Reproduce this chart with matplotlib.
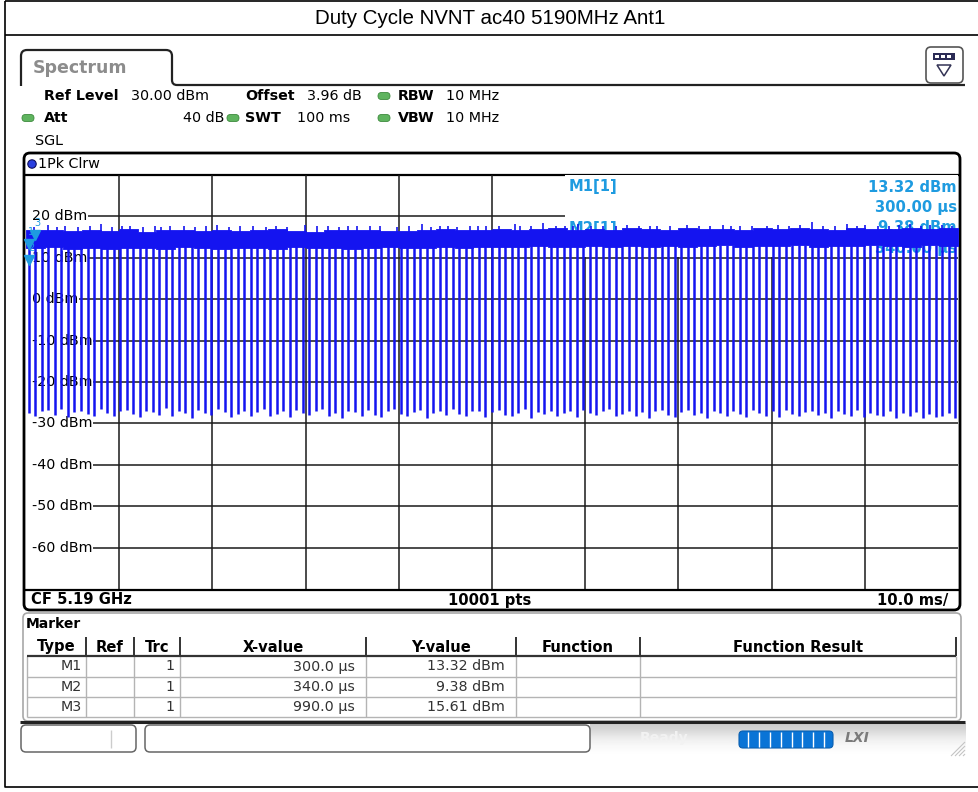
import matplotlib
matplotlib.use("Agg")
import matplotlib.pyplot as plt
from matplotlib.patches import Rectangle, FancyBboxPatch, Circle, Polygon, PathPatch
from matplotlib.path import Path

W, H = 979, 792

# ---- trace data: time in ms, level in dBm ----
dip_ms = [
    0.3, 1.0, 1.7, 2.4, 3.1, 3.8, 4.5, 5.2, 5.9, 6.6,
    7.3, 8.0, 8.7, 9.4, 10.1, 10.8, 11.5, 12.2, 12.9, 13.6,
    14.3, 15.0, 15.7, 16.4, 17.1, 17.8, 18.5, 19.2, 19.9, 20.6,
    21.3, 22.0, 22.7, 23.4, 24.1, 24.8, 25.5, 26.2, 26.9, 27.6,
    28.3, 29.0, 29.7, 30.4, 31.1, 31.8, 32.5, 33.2, 33.9, 34.6,
    35.3, 36.0, 36.7, 37.4, 38.1, 38.8, 39.5, 40.2, 40.9, 41.6,
    42.3, 43.0, 43.7, 44.4, 45.1, 45.8, 46.5, 47.2, 47.9, 48.6,
    49.3, 50.0, 50.7, 51.4, 52.1, 52.8, 53.5, 54.2, 54.9, 55.6,
    56.3, 57.0, 57.7, 58.4, 59.1, 59.8, 60.5, 61.2, 61.9, 62.6,
    63.3, 64.0, 64.7, 65.4, 66.1, 66.8, 67.5, 68.2, 68.9, 69.6,
    70.3, 71.0, 71.7, 72.4, 73.1, 73.8, 74.5, 75.2, 75.9, 76.6,
    77.3, 78.0, 78.7, 79.4, 80.1, 80.8, 81.5, 82.2, 82.9, 83.6,
    84.3, 85.0, 85.7, 86.4, 87.1, 87.8, 88.5, 89.2, 89.9, 90.6,
    91.3, 92.0, 92.7, 93.4, 94.1, 94.8, 95.5, 96.2, 96.9, 97.6,
    98.3, 99.0, 99.7,
]
dip_dbm = [
    -27.6, -28.2, -27.0, -26.8, -27.9, -26.5, -28.4, -27.2, -26.9, -27.7,
    -28.1, -26.6, -27.4, -28.3, -27.0, -26.7, -27.8, -28.5, -26.9, -27.3,
    -27.9, -26.4, -28.2, -27.1, -27.6, -28.6, -26.8, -27.5, -28.0, -26.6,
    -27.2, -28.4, -27.7, -26.9, -28.1, -27.3, -26.5, -28.3, -27.8, -27.0,
    -28.5, -26.8, -27.4, -28.0, -27.1, -26.6, -28.2, -27.6, -28.7, -26.9,
    -27.3, -28.1, -26.7, -27.9, -28.4, -27.0, -26.5, -27.7, -28.2, -27.2,
    -26.8, -28.6, -27.5, -27.0, -28.0, -26.6, -27.8, -28.3, -27.1, -26.9,
    -28.4, -27.3, -26.7, -27.9, -28.1, -27.4, -26.5, -28.6, -27.2, -27.7,
    -26.9, -28.2, -27.6, -27.0, -28.5, -26.8, -27.4, -28.0, -27.1, -26.6,
    -28.3, -27.7, -26.9, -28.1, -27.3, -28.6, -27.0, -26.7, -27.9, -28.4,
    -27.2, -26.8, -28.0, -27.5, -28.7, -26.9, -27.4, -28.2, -27.1, -27.8,
    -28.5, -26.7, -27.6, -28.1, -27.0, -28.4, -26.8, -27.7, -28.3, -27.2,
    -26.9, -28.0, -27.5, -28.6, -27.1, -27.8, -28.2, -26.7, -28.5, -27.4,
    -27.9, -28.3, -27.0, -28.6, -27.6, -28.1, -27.3, -28.7, -27.8, -28.4,
    -28.2, -27.5, -28.6,
]
band_ms = [
    0, 2, 4, 6, 8, 10, 12, 14, 16, 18, 20, 22, 24, 26, 28, 30, 32, 34, 36, 38,
    40, 42, 44, 46, 48, 50, 52, 54, 56, 58, 60, 62, 64, 66, 68, 70, 72, 74, 76, 78,
    80, 82, 84, 86, 88, 90, 92, 94, 96, 98, 100,
]
band_hi_dbm = [
    16.6, 16.8, 16.4, 16.7, 16.5, 16.9, 16.3, 16.6, 16.8, 16.5,
    16.7, 16.4, 16.6, 16.9, 16.5, 16.3, 16.7, 16.6, 16.8, 16.4,
    16.5, 16.7, 16.9, 16.6, 16.8, 17.0, 16.7, 16.9, 17.1, 16.8,
    17.0, 16.7, 17.1, 16.9, 16.8, 17.2, 16.9, 17.0, 16.8, 17.1,
    16.9, 17.2, 17.0, 16.8, 17.1, 16.9, 17.0, 17.2, 16.9, 17.1, 17.1,
]
band_lo_dbm = [
    12.3, 12.5, 12.2, 12.4, 12.1, 12.4, 12.3, 12.2, 12.5, 12.3,
    12.1, 12.4, 12.3, 12.2, 12.5, 12.3, 12.4, 12.2, 12.3, 12.5,
    12.4, 12.3, 12.6, 12.4, 12.7, 12.5, 12.6, 12.8, 12.6, 12.7,
    12.9, 12.7, 12.8, 12.6, 12.9, 12.7, 12.8, 13.0, 12.7, 12.9,
    12.8, 13.0, 12.7, 12.9, 12.8, 13.0, 12.9, 12.7, 13.0, 12.8, 12.8,
]
spike_ms = [
    0.9, 2.4, 3.3, 4.2, 5.6, 6.9, 8.1, 9.2, 10.3, 11.2, 12.6, 13.8, 14.5, 15.5,
    16.9, 18.1, 19.3, 20.5, 21.8, 23.0, 24.4, 25.7, 26.8, 28.0, 29.9, 31.2, 32.4,
    33.6, 34.5, 35.5, 36.9, 38.0, 39.8, 41.1, 42.5, 43.5, 44.4, 45.3, 46.2, 47.6,
    48.5, 49.4, 50.8, 52.5, 53.0, 54.2, 55.5, 56.9, 57.8, 58.7, 59.2, 60.6, 61.9,
    63.3, 64.5, 65.8, 66.9, 67.7, 69.1, 70.9, 72.2, 73.4, 74.8, 75.6, 76.6, 77.9,
    79.5, 80.7, 81.9, 83.1, 84.3, 85.5, 86.8, 88.1, 89.2, 90.0, 91.4, 92.6, 93.7,
    94.8, 96.0, 97.0, 98.3, 99.4,
]
spike_dbm = [
    17.5, 17.9, 17.4, 17.8, 17.5, 17.6, 18.2, 17.4, 17.6, 17.7, 17.5, 17.8, 17.4, 17.6,
    17.6, 17.4, 17.7, 18.0, 17.5, 17.6, 17.7, 17.4, 17.7, 17.5, 17.9, 17.6, 17.7,
    17.5, 17.6, 17.8, 17.8, 17.6, 17.5, 17.6, 18.1, 17.5, 17.8, 17.6, 17.5, 17.7,
    17.6, 17.6, 17.7, 18.1, 17.8, 17.6, 18.5, 17.7, 17.6, 17.8, 18.1, 17.6, 17.8,
    17.6, 17.9, 17.6, 17.7, 17.8, 17.6, 18.0, 17.7, 17.6, 17.9, 17.7, 17.6, 17.8,
    17.7, 17.9, 17.6, 18.0, 18.7, 17.8, 17.7, 18.1, 17.7, 18.0, 17.8, 17.6, 17.9,
    18.2, 17.7, 17.9, 18.0, 17.8,
]

# ---- marker table ----
marker_names = ["M1", "M2", "M3"]
marker_trc = ["1", "1", "1"]
marker_x_us = [300.0, 340.0, 990.0]
marker_y_dbm = [13.32, 9.38, 15.61]

level_ticks = [20, 10, 0, -10, -20, -30, -40, -50, -60]
time_ticks = [10, 20, 30, 40, 50, 60, 70, 80, 90]

table_cols = ["Type", "Ref", "Trc", "X-value", "Y-value", "Function", "Function Result"]
col_edges = [27, 86, 134, 180, 366, 516, 640, 956]

TRACE = "#1414f0"
MK = "#1e9be0"
FONT = "DejaVu Sans"
FS = 10.3   # regular instrument text
FB = 10.3   # bold instrument text

fig = plt.figure(figsize=(W / 100, H / 100), dpi=100)
bg = fig.add_axes([0, 0, 1, 1])
bg.set_xlim(0, W)
bg.set_ylim(H, 0)
bg.axis("off")


def put(x, y, s, size=FS, weight="normal", ha="left", color="black", **kw):
    return bg.text(x, y, s, fontsize=size, fontweight=weight, ha=ha,
                   va="center", color=color, family=FONT, **kw)


def line(xs, ys, color="black", lw=1.0, **kw):
    bg.plot(xs, ys, color=color, lw=lw, solid_capstyle="butt", **kw)


# outer frame and title
line([5, 5, W], [1, 787, 787], lw=1.2)
line([5, W], [1, 1], lw=1.2)
line([5, W], [35, 35], lw=1.2)
bg.text(490, 18, "Duty Cycle NVNT ac40 5190MHz Ant1", fontsize=14.8,
        family="Liberation Sans", ha="center", va="center")

# spectrum tab
tab = Path([(21, 86), (21, 56), (21, 50), (27, 50), (166, 50), (172, 50),
            (172, 56), (172, 80), (172, 85), (177, 85), (965, 85)],
           [Path.MOVETO, Path.LINETO, Path.CURVE3, Path.CURVE3, Path.LINETO,
            Path.CURVE3, Path.CURVE3, Path.LINETO, Path.CURVE3, Path.CURVE3,
            Path.LINETO])
bg.add_patch(PathPatch(tab, fc="none", ec="#222222", lw=1.6))
put(33, 68, "Spectrum", size=12.5, weight="bold", color="#8c8c8c")

# icon at top right
bg.add_patch(FancyBboxPatch((926, 47), 37, 36, boxstyle="round,pad=0,rounding_size=5",
                            fc="white", ec="#555555", lw=1.2))
bg.add_patch(Rectangle((933, 53), 22, 7, fc="#2b2b55", ec="none"))
for sx in [935, 941, 947]:
    bg.add_patch(Rectangle((sx, 55), 4, 3, fc="white", ec="none"))
bg.add_patch(Polygon([(937, 65), (951, 65), (944, 76)], closed=True,
                     fc="none", ec="#333355", lw=1.1))

# setting lines
put(44, 96, "Ref Level", weight="bold", size=FB)
put(131, 96, "30.00 dBm")
put(245, 96, "Offset", weight="bold", size=FB)
put(307, 96, "3.96 dB")
put(398, 96, "RBW", weight="bold", size=FB)
put(446, 96, "10 MHz")
put(44, 118, "Att", weight="bold", size=FB)
put(224, 118, "40 dB", ha="right")
put(245, 118, "SWT", weight="bold", size=FB)
put(350, 118, "100 ms", ha="right")
put(398, 118, "VBW", weight="bold", size=FB)
put(446, 118, "10 MHz")
put(35, 141, "SGL")
for gx, gy in [(384, 96), (28, 118), (233, 118), (384, 118)]:
    bg.add_patch(FancyBboxPatch((gx - 6, gy - 3.5), 12, 7,
                                boxstyle="round,pad=0,rounding_size=3.5",
                                fc="#5fb45f", ec="#3d8a3d", lw=0.6))

# diagram frame
bg.add_patch(FancyBboxPatch((24, 153), 936, 457, boxstyle="round,pad=0,rounding_size=6",
                            fc="none", ec="black", lw=2.0, zorder=5))
line([24, 960], [175, 175], lw=1.6, zorder=5)
line([24, 960], [589.5, 589.5], lw=1.6, zorder=5)
bg.add_patch(Circle((32, 164), 4.2, fc="#2a3fe0", ec="#101060", lw=0.8))
put(38, 164, "1Pk Clrw")
put(31, 600, "CF 5.19 GHz", size=10.6, weight="bold")
put(490, 600, "10001 pts", size=10.6, weight="bold", ha="center")
put(948, 600, "10.0 ms/", size=10.6, weight="bold", ha="right")

# marker panel
bg.add_patch(FancyBboxPatch((23, 613), 938, 108, boxstyle="round,pad=0,rounding_size=5",
                            fc="white", ec="#a8a8a8", lw=1.2))
line([20, 965], [722, 722], color="#222222", lw=2.2)
put(26, 624, "Marker", weight="bold", size=10)
hy0, hy1 = 637, 656
row_y = [656, 677, 697, 717]
for xe in col_edges[1:]:
    line([xe, xe], [hy0, hy1], color="#333333", lw=1.4)
for xe in col_edges:
    line([xe, xe], [hy1, row_y[-1]], color="#b4b4b4", lw=1.0)
for yy in row_y[1:]:
    line([col_edges[0], col_edges[-1]], [yy, yy], color="#b4b4b4", lw=1.0)
line([col_edges[0], col_edges[-1]], [hy1, hy1], color="#333333", lw=1.6)
for i, name in enumerate(table_cols):
    put((col_edges[i] + col_edges[i + 1]) / 2, 647, name, size=10.6, weight="bold", ha="center")
for i in range(len(marker_names)):
    yc = (row_y[i] + row_y[i + 1]) / 2
    put(82, yc, marker_names[i], color="#333333", ha="right")
    put(175, yc, marker_trc[i], color="#333333", ha="right")
    put(355, yc, f"{marker_x_us[i]:.1f} \u00b5s", color="#333333", ha="right")
    put(505, yc, f"{marker_y_dbm[i]:.2f} dBm", color="#333333", ha="right")

# status bar
grad = [[0.80], [0.86], [0.92], [0.96], [0.98], [1.0]]
bg.imshow(grad, cmap="gray", vmin=0, vmax=1, extent=(590, 966, 757, 723),
          aspect="auto", interpolation="bicubic", zorder=0)
bg.set_xlim(0, W)
bg.set_ylim(H, 0)
for bx, bw in [(21, 115), (145, 445)]:
    bg.add_patch(FancyBboxPatch((bx, 725), bw, 27, boxstyle="round,pad=0,rounding_size=5",
                                fc="white", ec="#666666", lw=1.1))
line([111.5, 111.5], [730, 748], color="#cccccc", lw=1.0)
put(664, 738, "Ready", size=10, weight="bold", ha="center", color="#f2f2f2")
bg.add_patch(FancyBboxPatch((739, 731), 94, 17, boxstyle="round,pad=0,rounding_size=4",
                            fc="#0a74d6", ec="#0a5fb0", lw=0.8))
for k in range(8):
    dx = 748.5 + 10.8 * k
    line([dx, dx], [732, 747], color="white", lw=1.0)
put(857, 738, "LXI", size=10, weight="bold", ha="center", color="#7a7a7a", style="italic")
for k in range(4):
    line([951 + 4 * k, 965], [756, 742 + 4 * k], color="#c4c4c4", lw=0.8)

# ---- trace diagram ----
x0, x1, y0, y1 = 26, 958, 175, 589
ax = fig.add_axes([x0 / W, 1 - y1 / H, (x1 - x0) / W, (y1 - y0) / H])
ax.set_xlim(0, 100)
ax.set_ylim(-70, 30)
ax.patch.set_alpha(0)
ax.axis("off")

for t in time_ticks:
    ax.axvline(t, color="#1a1a1a", lw=1.1, zorder=1)

lab = []
for lv in level_ticks:
    lab.append(ax.text(0.6, lv, f"{lv} dBm", fontsize=FS, family=FONT,
                       ha="left", va="center", zorder=2))
fig.canvas.draw()
rend = fig.canvas.get_renderer()
inv = ax.transData.inverted()
for lv, t in zip(level_ticks, lab):
    bb = t.get_window_extent(rend)
    xs = inv.transform((bb.x1 + 1, 0))[0]
    ax.hlines(lv, xs, 100, color="#1a1a1a", lw=1.1, zorder=1)

# marker readout box
ax.add_patch(Rectangle((57.8, 10.3), 42.2, 19.7, fc="white", ec="none", zorder=2.5))
info = [("M1[1]", f"{marker_y_dbm[0]:.2f} dBm", f"{marker_x_us[0]:.2f} \u00b5s", 187),
        ("M2[1]", f"{marker_y_dbm[1]:.2f} dBm", f"{marker_x_us[1]:.2f} \u00b5s", 228)]
for nm, yv, xv, py in info:
    for px, s, ha, dy in [(569, nm, "left", 0), (957, yv, "right", 0), (957, xv, "right", 20.5)]:
        ax.text(px, py + dy, s, transform=bg.transData, fontsize=10.6, fontweight="bold",
                family=FONT, color=MK, ha=ha, va="center", zorder=3, clip_on=False)

# trace: burst band, spikes and off-gaps
ax.fill_between(band_ms, band_lo_dbm, band_hi_dbm, step="post", color=TRACE,
                lw=0.6, edgecolor=TRACE, zorder=4)
ax.vlines(spike_ms, 15.0, spike_dbm, color=TRACE, lw=1.2, zorder=4)
ax.vlines(dip_ms, dip_dbm, 13.0, color=TRACE, lw=1.8, zorder=4)

# marker symbols
mx = [v / 1000 for v in marker_x_us]
ax.plot(mx, marker_y_dbm, ls="none", marker="v", ms=6.5, color=MK,
        mec=MK, zorder=6, clip_on=False)
for i, (xm, ym) in enumerate(zip(mx, marker_y_dbm)):
    ax.annotate(str(i + 1), (xm, ym), xytext=(1.5, 5), textcoords="offset points",
                fontsize=7, color=MK, ha="center", va="bottom", zorder=6,
                annotation_clip=False, family=FONT)

fig.savefig("out.png", dpi=100)
